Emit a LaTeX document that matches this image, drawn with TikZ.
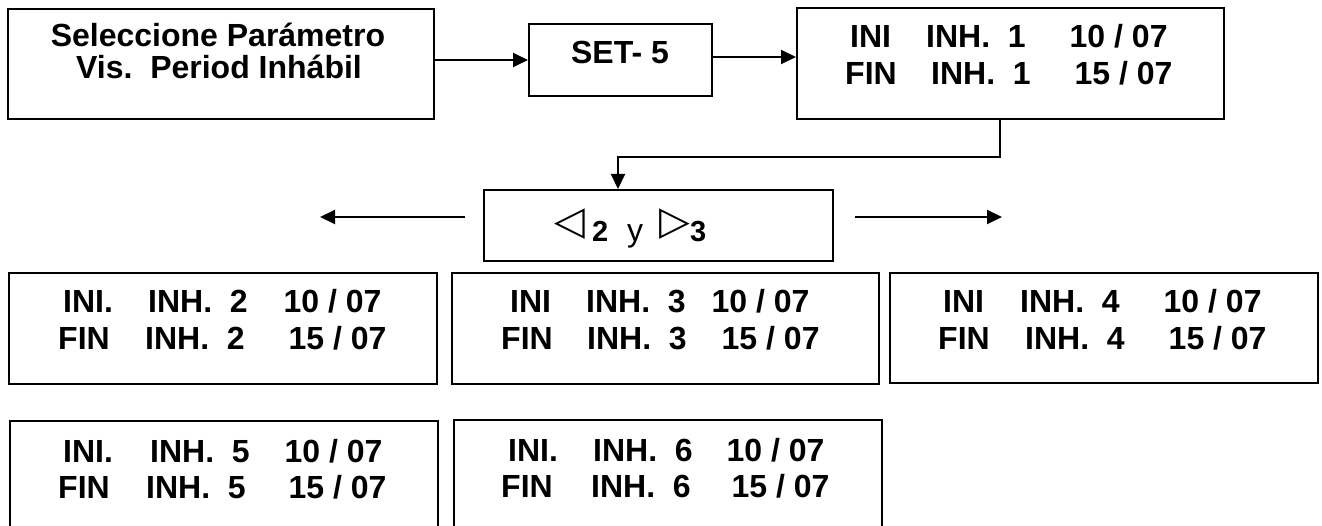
\documentclass[tikz,border=0pt]{standalone}
\usepackage{fontspec}
\setmainfont{Liberation Sans}
\newfontfamily\symfont{DejaVu Sans}
\usetikzlibrary{arrows.meta}
\tikzset{
  box/.style={draw, line width=2pt, inner sep=0pt},
  txt/.style={inner sep=0pt, anchor=base west, font=\fontsize{32}{37}\selectfont\bfseries},
  ctxt/.style={inner sep=0pt, anchor=base, font=\fontsize{32}{37}\selectfont\bfseries},
  dig/.style={inner sep=0pt, anchor=base west, font=\fontsize{29}{34}\selectfont\bfseries},
  reg/.style={inner sep=0pt, anchor=base west, font=\fontsize{32}{37}\selectfont},
  tri/.style={inner sep=0pt, anchor=center, font=\fontsize{40}{44}\symfont},
  arr/.style={line width=2pt, -{Triangle[length=15pt,width=14pt]}},
}
\newcommand\tline[5]{\makebox[#1pt][l]{#3}\makebox[#2pt][l]{#4}#5}
\begin{document}
\begin{tikzpicture}[x=1pt,y=-1pt]
\useasboundingbox (0,0) rectangle (1322,526);
\clip (0,0) rectangle (1322,526);
% boxes
\node[box, minimum width=426pt, minimum height=110pt] (A) at (221,64) {};
\node[box, minimum width=183pt, minimum height=72pt] (B) at (620.5,60) {};
\node[box, minimum width=427pt, minimum height=111pt] (C) at (1010.5,63.5) {};
\node[box, minimum width=349pt, minimum height=71pt] (D) at (658.5,225.5) {};
\node[box, minimum width=428pt, minimum height=111pt] (E) at (223,328.5) {};
\node[box, minimum width=427pt, minimum height=111pt] (F) at (665.5,328.5) {};
\node[box, minimum width=428pt, minimum height=110pt] (G) at (1104,328) {};
\node[box, minimum width=428pt, minimum height=120pt] (H) at (224,481) {};
\node[box, minimum width=428pt, minimum height=120pt] (I) at (668,480) {};
% texts
\node[ctxt] (a1) at (218,47) {Seleccione Parámetro};
\node[ctxt] (a2) at (219,79) {Vis.\ \ Period Inhábil};
\node[ctxt] (b1) at (620,64) {SET- 5};
\node[txt] (c1) at (850,48) {\tline{76}{143.5}{INI}{INH.\ \ 1}{10 / 07}};
\node[txt] (c2) at (845,85) {\tline{86}{143.5}{FIN}{INH.\ \ 1}{15 / 07}};
\node[txt] (e1) at (63,313) {\tline{85}{135.5}{INI.}{INH.\ \ 2}{10 / 07}};
\node[txt] (e2) at (58,350) {\tline{87}{143.5}{FIN}{INH.\ \ 2}{15 / 07}};
\node[txt] (f1) at (510,313) {\tline{76}{125.5}{INI}{INH.\ \ 3}{10 / 07}};
\node[txt] (f2) at (501,350) {\tline{86}{134.5}{FIN}{INH.\ \ 3}{15 / 07}};
\node[txt] (g1) at (943,313) {\tline{77}{143.5}{INI}{INH.\ \ 4}{10 / 07}};
\node[txt] (g2) at (938,349) {\tline{87}{143.5}{FIN}{INH.\ \ 4}{15 / 07}};
\node[txt] (h1) at (63,462) {\tline{87}{134.5}{INI.}{INH.\ \ 5}{10 / 07}};
\node[txt] (h2) at (58,498) {\tline{88}{142.5}{FIN}{INH.\ \ 5}{15 / 07}};
\node[txt] (i1) at (508,461) {\tline{85}{133.5}{INI.}{INH.\ \ 6}{10 / 07}};
\node[txt] (i2) at (501,497) {\tline{90}{140.5}{FIN}{INH.\ \ 6}{15 / 07}};
% box D content
\node[tri] (tl) at (570,224) {◁};
\node[dig] (d2) at (592,241.5) {2};
\node[reg] (dy) at (627,241.5) {y};
\node[tri] (tr) at (675,224) {▷};
\node[dig] (d3) at (690,241.5) {3};
% connectors
\draw[arr] (A.east |- B.west) -- (B.west);
\draw[arr] ([yshift=3pt]B.east) -- ([yshift=3pt]B.east -| C.west);
\draw[arr] ([xshift=-10.5pt]C.south) -- ++(0,37) -| ([xshift=-40.5pt]D.north);
\coordinate (Lend) at (320,217);
\coordinate (Rend) at (1002,217);
\draw[arr] ([xshift=-18pt,yshift=8.5pt]D.west) -- (Lend);
\draw[arr] ([xshift=21pt,yshift=8.5pt]D.east) -- (Rend);
\end{tikzpicture}
\end{document}
